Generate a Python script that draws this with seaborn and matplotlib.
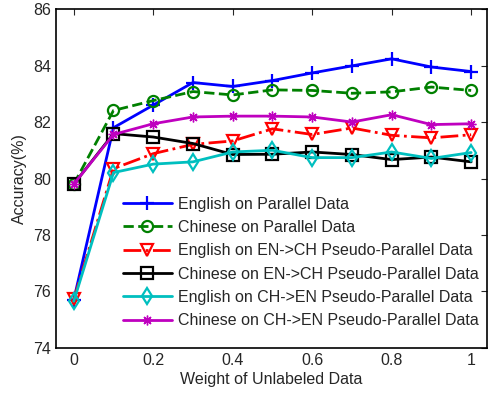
import seaborn as sns
import pandas as pd
import matplotlib.pyplot as plt

# data
weights = [0, 0.1, 0.2, 0.3, 0.4, 0.5, 0.6, 0.7, 0.8, 0.9, 1.0]
en_parallel = [75.7, 81.8, 82.6, 83.4, 83.26, 83.47, 83.74, 83.99, 84.24, 83.95, 83.79]
ch_parallel = [79.8, 82.41, 82.76, 83.08, 82.96, 83.14, 83.12, 83.02, 83.07, 83.24, 83.12]
en_en2ch = [75.72, 80.35, 80.88, 81.21, 81.33, 81.76, 81.56, 81.79, 81.53, 81.44, 81.55]
ch_en2ch = [79.8, 81.59, 81.47, 81.24, 80.85, 80.86, 80.94, 80.85, 80.67, 80.76, 80.59]
en_ch2en = [75.65, 80.21, 80.51, 80.59, 80.94, 81.0, 80.74, 80.74, 80.94, 80.71, 80.92]
ch_ch2en = [79.8, 81.56, 81.94, 82.18, 82.21, 82.21, 82.18, 82.0, 82.26, 81.91, 81.94]

series = {
    "English on Parallel Data": en_parallel,
    "Chinese on Parallel Data": ch_parallel,
    "English on EN->CH Pseudo-Parallel Data": en_en2ch,
    "Chinese on EN->CH Pseudo-Parallel Data": ch_en2ch,
    "English on CH->EN Pseudo-Parallel Data": en_ch2en,
    "Chinese on CH->EN Pseudo-Parallel Data": ch_ch2en,
}

styles = [
    dict(color="#0000ff", marker="+", linestyle="-", markersize=10, mew=1.6),
    dict(color="#008000", marker="o", linestyle="--", markersize=8, mew=1.6),
    dict(color="#ff0000", marker="v", linestyle="-.", markersize=9, mew=1.6),
    dict(color="#000000", marker="s", linestyle="-", markersize=8, mew=1.6),
    dict(color="#00bfbf", marker="d", linestyle="-", markersize=8, mew=1.6),
    dict(color="#bf00bf", marker=(8, 2, 0), linestyle="-", markersize=7, mew=1.0),
]

sns.set_style("white")
plt.rcParams["font.family"] = ["Liberation Sans", "DejaVu Sans"]
plt.rcParams["font.size"] = 11.5

fig = plt.figure(figsize=(4.9, 3.98), dpi=100)
ax = fig.add_axes([0.114, 0.126, 0.88, 0.851])

for (name, vals), st in zip(series.items(), styles):
    df = pd.DataFrame({"w": weights, "acc": vals})
    sns.lineplot(
        data=df, x="w", y="acc", ax=ax, label=name,
        color=st["color"], marker=st["marker"], linestyle=st["linestyle"],
        markersize=st["markersize"], markerfacecolor="none",
        markeredgecolor=st["color"], markeredgewidth=st["mew"], linewidth=2,
    )

ax.set_xlim(-0.045, 1.04)
ax.set_ylim(74, 86)
ax.set_xticks([0, 0.2, 0.4, 0.6, 0.8, 1])
ax.set_xticklabels(["0", "0.2", "0.4", "0.6", "0.8", "1"])
ax.set_yticks(range(74, 87, 2))
ax.tick_params(direction="in", top=True, right=True, length=4, labelsize=11.5)
ax.set_xlabel("Weight of Unlabeled Data", fontsize=11.5, labelpad=3)
ax.set_ylabel("Accuracy(%)", fontsize=11.5)
for s in ax.spines.values():
    s.set_linewidth(1.2)
    s.set_color("black")

ax.legend(loc="upper left", bbox_to_anchor=(0.14, 0.465), frameon=False,
          handlelength=3.1, handletextpad=0.35, fontsize=11.5,
          labelspacing=0.52, borderaxespad=0)

fig.savefig("out.png", dpi=100)
